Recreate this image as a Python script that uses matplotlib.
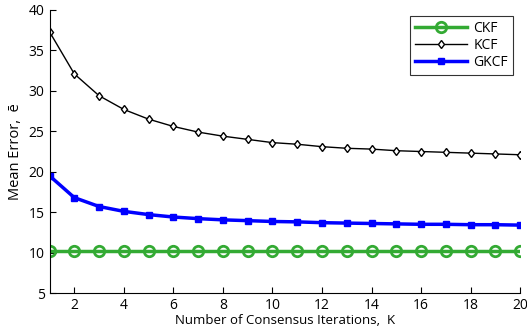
import matplotlib
matplotlib.use("Agg")
import matplotlib.pyplot as plt

plt.rcParams['font.family'] = ['Open Sans', 'DejaVu Sans']

K = list(range(1, 21))
ckf = [10.2] * 20
kcf = [37.3, 32.1, 29.4, 27.7, 26.5, 25.6, 24.9, 24.4, 24.0, 23.6,
       23.4, 23.1, 22.9, 22.8, 22.6, 22.5, 22.4, 22.3, 22.2, 22.1]
gkcf = [19.5, 16.8, 15.7, 15.1, 14.7, 14.4, 14.2, 14.05, 13.95, 13.85,
        13.8, 13.7, 13.65, 13.6, 13.55, 13.5, 13.5, 13.45, 13.45, 13.4]

fig = plt.figure(figsize=(5.27, 3.33), dpi=100)
ax = fig.add_axes([0.094, 0.12, 0.893, 0.85])

ax.plot(K, ckf, color='#33aa33', lw=2.5, marker='o', ms=7.5, mfc='none', mew=2, label='CKF')
ax.plot(K, kcf, color='black', lw=1.0, marker='d', ms=4.5, mfc='white', mec='black', mew=1, label='KCF')
ax.plot(K, gkcf, color='#0000ff', lw=2.5, marker='s', ms=5, label='GKCF')

ax.set_xlim(1, 20)
ax.set_ylim(5, 40)
ax.set_xticks(range(2, 21, 2))
ax.set_yticks(range(5, 41, 5))
ax.tick_params(direction='in', labelsize=10, length=4)
ax.spines['top'].set_visible(False)
ax.spines['right'].set_visible(False)
ax.set_xlabel('Number of Consensus Iterations,  K', fontsize=9.5, labelpad=1)
ax.set_ylabel('Mean Error,  ē', fontsize=10.5, labelpad=4)

leg = ax.legend(loc='upper right', bbox_to_anchor=(0.985, 0.979), borderaxespad=0,
                fancybox=False, frameon=True, edgecolor='black', fontsize=10,
                handlelength=3.7, borderpad=0.35, labelspacing=0.15, handletextpad=0.5)
leg.get_frame().set_linewidth(0.8)

fig.savefig('out.png', dpi=100)
